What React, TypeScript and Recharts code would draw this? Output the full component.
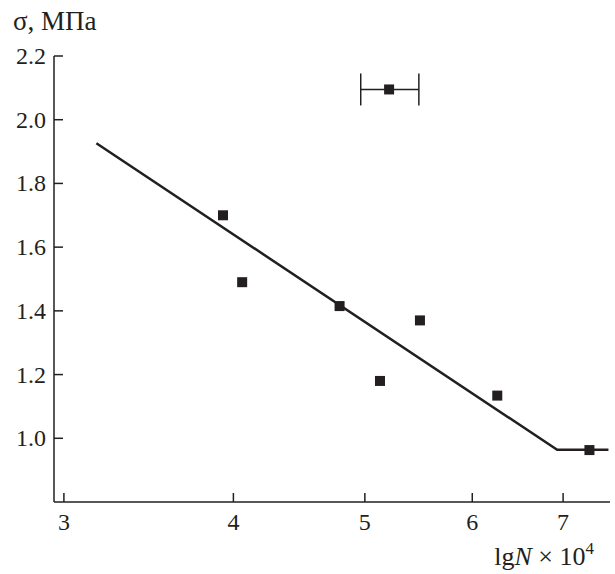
import { ScatterChart, Scatter, XAxis, YAxis, ErrorBar, Label } from "recharts"

// lg N x 10^4 (log axis) vs sigma, MPa
const pointX = [3.93, 4.06, 4.79, 5.13, 5.49, 6.26, 7.32]
const pointY = [1.7, 1.49, 1.415, 1.18, 1.37, 1.134, 0.963]

const fitX = [3.17, 6.93, 7.56]
const fitY = [1.926, 0.964, 0.964]

const outlierX = [5.21]
const outlierY = [2.095]
const outlierErr = [[0.245, 0.27]]

const xTicks = [3, 4, 5, 6, 7]
const yTicks = [1.0, 1.2, 1.4, 1.6, 1.8, 2.0, 2.2]

const points = pointX.map((x, i) => ({ x, y: pointY[i] }))
const fit = fitX.map((x, i) => ({ x, y: fitY[i] }))
const outlier = outlierX.map((x, i) => ({ x, y: outlierY[i], err: outlierErr[i] }))

const INK = "#231f20"
const FONT = "'Liberation Serif', 'Times New Roman', serif"

function Square(props: any) {
  const { cx, cy } = props
  return <rect x={cx - 5} y={cy - 5} width={10} height={10} fill={INK} />
}

function YTick(props: any) {
  const { x, y, payload } = props
  return (
    <g>
      <line x1={x + 8} x2={x + 17} y1={y} y2={y} stroke={INK} strokeWidth={1.5} />
      <text x={x} y={y} dy={8} textAnchor="end" fontSize={24} fontFamily={FONT} fill={INK}>
        {Number(payload.value).toFixed(1)}
      </text>
    </g>
  )
}

function XTick(props: any) {
  const { x, y, payload } = props
  return (
    <g>
      <line x1={x} x2={x} y1={y} y2={y - 9} stroke={INK} strokeWidth={1.5} />
      <text x={x} y={y} dy={28} textAnchor="middle" fontSize={24} fontFamily={FONT} fill={INK}>
        {payload.value}
      </text>
    </g>
  )
}

export default function App() {
  return (
    <div style={{ position: "absolute", left: 0, top: 0, width: 615, height: 574, background: "#fff" }}>
      <ScatterChart width={615} height={574} margin={{ top: 56, right: 5, bottom: 32, left: 10 }}>
        <XAxis
          type="number"
          dataKey="x"
          scale="log"
          domain={[2.95, 7.58]}
          allowDataOverflow
          ticks={xTicks}
          height={40}
          tickLine={false}
          tickSize={0}
          tickMargin={0}
          tick={<XTick />}
          axisLine={{ stroke: INK, strokeWidth: 1.5 }}
        >
          <Label
            content={(p: any) => {
              const vb = p.viewBox
              return (
                <text
                  x={vb.x + vb.width - 16}
                  y={vb.y + 63}
                  textAnchor="end"
                  fontSize={26}
                  fontFamily={FONT}
                  fill={INK}
                >
                  lg<tspan fontStyle="italic">N</tspan> × 10
                  <tspan fontSize={17} dy={-11}>4</tspan>
                </text>
              )
            }}
          />
        </XAxis>
        <YAxis
          type="number"
          dataKey="y"
          domain={[0.8, 2.2]}
          allowDataOverflow
          ticks={yTicks}
          width={44}
          tickLine={false}
          tickSize={0}
          tickMargin={8}
          tick={<YTick />}
          axisLine={{ stroke: INK, strokeWidth: 1.5 }}
        >
          <Label
            content={(p: any) => {
              const vb = p.viewBox
              return (
                <text x={vb.x + 3} y={vb.y - 26} fontSize={27} fontFamily={FONT} fill={INK}>
                  σ, МПа
                </text>
              )
            }}
          />
        </YAxis>
        <Scatter
          data={fit}
          line={{ stroke: INK, strokeWidth: 2.5 }}
          lineType="joint"
          shape={() => <g />}
          isAnimationActive={false}
        />
        <Scatter data={points} shape={<Square />} isAnimationActive={false} />
        <Scatter data={outlier} shape={<Square />} isAnimationActive={false}>
          <ErrorBar dataKey="err" direction="x" width={16} stroke={INK} strokeWidth={1.5} />
        </Scatter>
      </ScatterChart>
    </div>
  )
}
